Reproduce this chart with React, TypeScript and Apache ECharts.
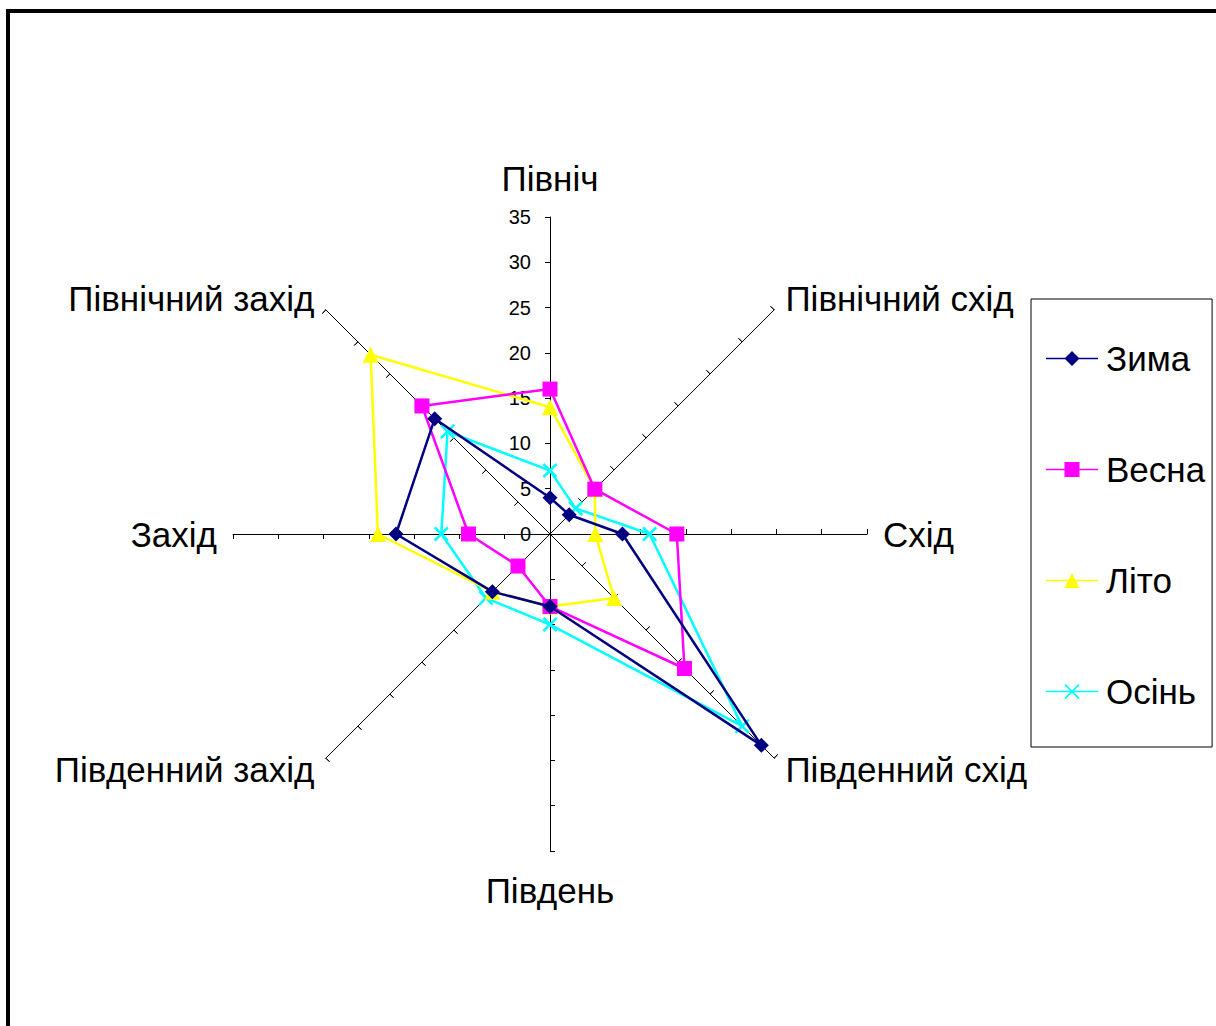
import React, { useEffect, useRef } from "react";
import * as echarts from "echarts";

// Indicator order: ECharts radar goes counter-clockwise from the top
const directions = [
  "Північ",
  "Північний захід",
  "Захід",
  "Південний захід",
  "Південь",
  "Південний схід",
  "Схід",
  "Північний схід",
];

const seriesNames = ["Зима", "Весна", "Літо", "Осінь"];

// values in the same order as directions
const winter = [4, 18, 17, 9, 8, 33, 8, 3];
const spring = [16, 20, 9, 5, 8, 21, 14, 7];
const summer = [14, 28, 19, 9, 8, 10, 5, 7];
const autumn = [7, 16, 12, 10, 10, 30, 11, 4];

const axisMax = 35;
const axisMin = 0;
const axisSplits = 7;

const colors = ["#000080", "#FF00FF", "#FFFF00", "#00FFFF"];

const FONT = "'Liberation Sans', Arial, Helvetica, sans-serif";

const xSymbol =
  "path://M0,1.2L1.2,0L5,3.8L8.8,0L10,1.2L6.2,5L10,8.8L8.8,10L5,6.2L1.2,10L0,8.8L3.8,5Z";

const legendLine = "M0,6.75H52V8.25H0Z";
const legendIcons = [
  "path://" + legendLine + "M26,0L33.5,7.5L26,15L18.5,7.5Z",
  "path://" + legendLine + "M18.5,0H33.5V15H18.5Z",
  "path://" + legendLine + "M26,0L33.5,15H18.5Z",
  "path://" +
    legendLine +
    "M18.5,1.2L19.7,0L26,6.3L32.3,0L33.5,1.2L27.2,7.5L33.5,13.8L32.3,15L26,8.7L19.7,15L18.5,13.8L24.8,7.5Z",
];

const symbols = ["diamond", "rect", "triangle", xSymbol];
const symbolSizes = [15, 15, 16, 15];

export default function App() {
  const ref = useRef<HTMLDivElement>(null);

  useEffect(() => {
    if (!ref.current) return;
    const chart = echarts.init(ref.current, undefined, { renderer: "svg" });
    const values = [winter, spring, summer, autumn];

    const indicators0 = directions.map((d, i) =>
      i === 0
        ? { name: d, min: axisMin, max: axisMax, axisLabel: { show: true } }
        : { name: d, min: axisMin, max: axisMax }
    );
    const indicators1 = directions.map((d) => ({ name: d, min: axisMin, max: axisMax }));

    const option: any = {
      animation: false,
      backgroundColor: "#ffffff",
      textStyle: { fontFamily: FONT },
      graphic: [
        {
          type: "rect",
          shape: { x: 8, y: 11, width: 1400, height: 1200 },
          style: { fill: "none", stroke: "#000", lineWidth: 4 },
          silent: true,
          z: 100,
        },
      ],
      legend: {
        orient: "vertical",
        left: 1031,
        top: 299,
        padding: [42, 7, 38, 15],
        borderColor: "#000",
        borderWidth: 1,
        itemGap: 76,
        itemWidth: 52,
        itemHeight: 15,
        selectedMode: false,
        textStyle: { fontSize: 35, color: "#000", fontFamily: FONT, padding: [0, 0, 0, 3] },
        data: seriesNames.map((n, i) => ({ name: n, icon: legendIcons[i] })),
      },
      radar: [
        {
          center: [550, 534],
          radius: 317,
          startAngle: 90,
          shape: "polygon",
          splitNumber: axisSplits,
          nameGap: 16,
          axisName: { color: "#000", fontSize: 35, lineHeight: 46, fontFamily: FONT },
          axisLine: { show: true, lineStyle: { color: "#000", width: 1 } },
          axisTick: { show: true, length: 5, lineStyle: { color: "#000", width: 1 } },
          axisLabel: { show: false, color: "#000", fontSize: 20, margin: 19, fontFamily: FONT },
          splitLine: { show: false },
          splitArea: { show: false },
          indicator: indicators0,
        },
        {
          center: [550, 534],
          radius: 317,
          startAngle: 90,
          shape: "polygon",
          splitNumber: axisSplits,
          axisName: { show: false },
          axisLine: { show: false },
          axisTick: { show: true, inside: true, length: 5, lineStyle: { color: "#000", width: 1 } },
          axisLabel: { show: false },
          splitLine: { show: false },
          splitArea: { show: false },
          indicator: indicators1,
        },
      ],
      series: seriesNames.map((n, i) => ({
        type: "radar",
        name: n,
        radarIndex: 0,
        symbol: symbols[i],
        symbolSize: symbolSizes[i],
        itemStyle: { color: colors[i], borderWidth: 0 },
        lineStyle: { color: colors[i], width: 2.5 },
        z: 10 - i,
        data: [{ name: n, value: values[i] }],
      })),
    };

    chart.setOption(option);
    return () => chart.dispose();
  }, []);

  return (
    <div
      ref={ref}
      style={{ position: "absolute", left: 0, top: 0, width: 1216, height: 1026 }}
    />
  );
}
